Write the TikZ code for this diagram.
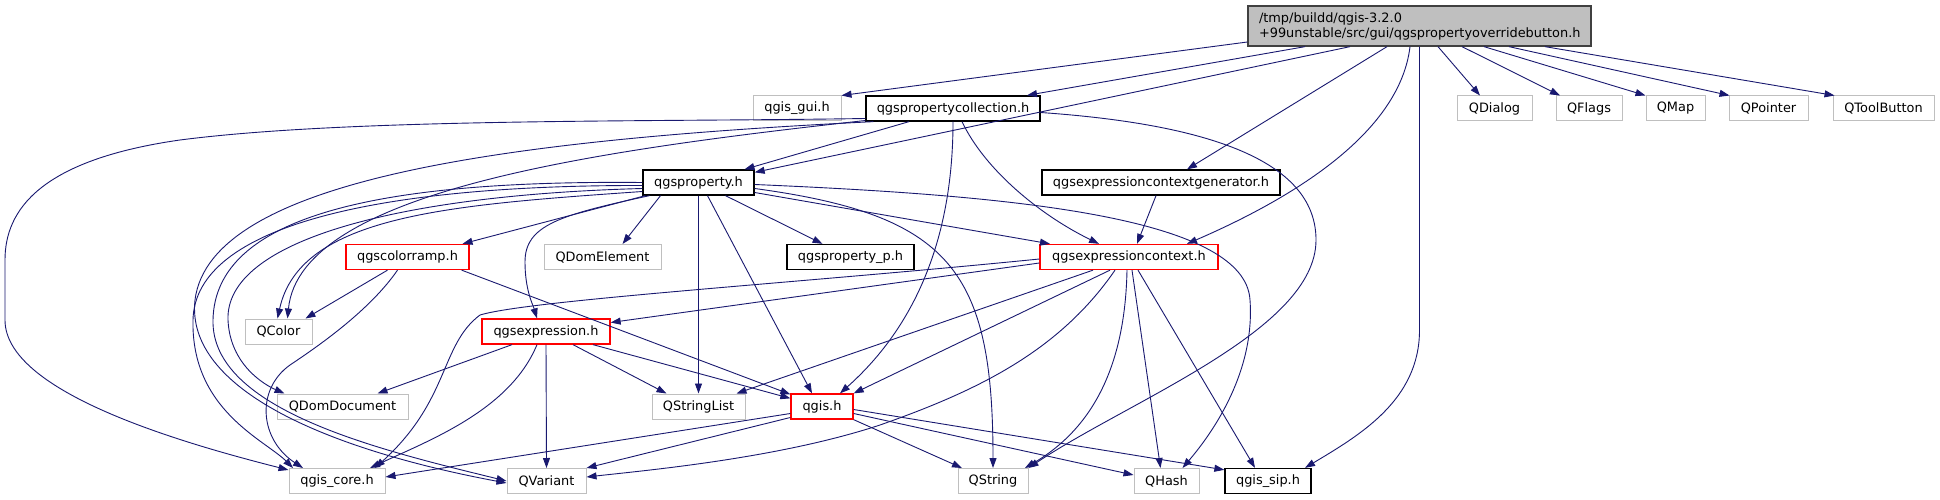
\documentclass[tikz,border=0pt]{standalone}
\usepackage{fontspec}
\setmainfont{DejaVu Sans}
\usetikzlibrary{arrows.meta}
\definecolor{edgec}{HTML}{191970}
\definecolor{grayb}{HTML}{BFBFBF}
\definecolor{topb}{HTML}{404040}
\tikzset{
  nd/.style={rectangle, inner sep=0pt, minimum height=25pt, font=\fontsize{12.9pt}{15pt}\selectfont, fill=white},
  sysnode/.style={nd, draw=grayb, line width=1pt},
  intnode/.style={nd, draw=black, line width=1.3pt},
  rednode/.style={nd, draw=red, line width=1.3pt},
  topnode/.style={nd, draw=topb, fill=grayb, line width=1.3pt, minimum height=40pt, text width=321pt, inner xsep=11pt, align=left},
  dep/.style={draw=edgec, line width=0.9pt, -{Triangle[length=10pt,width=7pt]}},
}
\begin{document}
\begin{tikzpicture}[x=1pt,y=-1pt]
\useasboundingbox[fill=white] (0,0) rectangle (1940,500);
% nodes
\node[topnode] (T) at (1419.5,26) {/tmp/buildd/qgis-3.2.0\\+99unstable/src/gui/qgspropertyoverridebutton.h};
\node[sysnode, minimum width=88pt] (gui) at (797,108.5) {qgis\_gui.h};
\node[intnode, minimum width=174pt] (PC) at (953,108.5) {qgspropertycollection.h};
\node[sysnode, minimum width=75pt] (QDialog) at (1494.5,108.5) {QDialog};
\node[sysnode, minimum width=66pt] (QFlags) at (1589,108.5) {QFlags};
\node[sysnode, minimum width=59pt] (QMap) at (1675.5,108.5) {QMap};
\node[sysnode, minimum width=79pt] (QPointer) at (1768.5,108.5) {QPointer};
\node[sysnode, minimum width=101pt] (QToolButton) at (1883.5,108.5) {QToolButton};
\node[intnode, minimum width=111pt] (P) at (698.5,182.5) {qgsproperty.h};
\node[intnode, minimum width=238pt] (ECG) at (1161,182.5) {qgsexpressioncontextgenerator.h};
\node[rednode, minimum width=123pt] (CR) at (407.5,257) {qgscolorramp.h};
\node[sysnode, minimum width=117pt] (QDE) at (602.5,257) {QDomElement};
\node[intnode, minimum width=127pt] (PP) at (850.5,257) {qgsproperty\_p.h};
\node[rednode, minimum width=178pt] (EC) at (1129,257) {qgsexpressioncontext.h};
\node[sysnode, minimum width=67pt] (QColor) at (278.5,331.5) {QColor};
\node[rednode, minimum width=128pt] (EX) at (546,331.5) {qgsexpression.h};
\node[sysnode, minimum width=131pt] (QDD) at (342.5,406.5) {QDomDocument};
\node[sysnode, minimum width=93pt] (QSL) at (698.5,406.5) {QStringList};
\node[rednode, minimum width=62pt] (QGIS) at (822,406.5) {qgis.h};
\node[sysnode, minimum width=96pt] (CORE) at (337,481) {qgis\_core.h};
\node[sysnode, minimum width=79pt] (QVar) at (546.5,481) {QVariant};
\node[sysnode, minimum width=70pt] (QStr) at (993,481) {QString};
\node[sysnode, minimum width=65pt] (QHash) at (1166.5,481) {QHash};
\node[intnode, minimum width=86pt] (SIP) at (1268,481) {qgis\_sip.h};
% edges from top node
\draw[dep] ([yshift=-16pt]T.west) -- (gui.north east);
\draw[dep] ([xshift=-114.5pt]T.south) -- ([xshift=74pt]PC.north);
\draw[dep] ([xshift=-69.5pt]T.south) -- ([yshift=-3pt]P.north east);
\draw[dep] ([xshift=-32.5pt]T.south) -- ([xshift=26pt]ECG.north);
\draw[dep] ([xshift=-9.5pt]T.south) .. controls (1400,130) and (1300,195) .. ([xshift=58pt]EC.north);
\draw[dep] (T.south) -- (1419.5,330) .. controls (1419.5,400) and (1360,435) .. ([xshift=37pt]SIP.north);
\draw[dep] ([xshift=18.5pt]T.south) -- ([xshift=-14.5pt]QDialog.north);
\draw[dep] ([xshift=42.5pt]T.south) -- ([xshift=-29pt]QFlags.north);
\draw[dep] ([xshift=64.5pt]T.south) -- (QMap.north west);
\draw[dep] ([xshift=89.5pt]T.south) -- ([xshift=1pt]QPointer.north west);
\draw[dep] ([xshift=125.5pt]T.south) -- ([xshift=2pt]QToolButton.north west);
% edges from qgspropertycollection.h
\draw[dep] ([xshift=-44pt]PC.south) -- ([xshift=46pt]P.north);
\draw[dep] ([xshift=9pt]PC.south) .. controls (985,170) and (1040,215) .. ([xshift=-30pt]EC.north);
\draw[dep] (PC.south) .. controls (953,260) and (900,340) .. ([xshift=18pt]QGIS.north);
\draw[dep] ([yshift=-4pt]PC.east) .. controls (1220,125) and (1316,165) .. (1316,240) .. controls (1316,330) and (1130,400) .. (QStr.north east);
\draw[dep] ([yshift=-10pt]PC.west) .. controls (650,122) and (350,118) .. (180,140) .. controls (40,160) and (5,210) .. (5,260) -- (5,320) .. controls (5,390) and (170,440) .. ([yshift=-2pt]CORE.north west);
\draw[dep] ([yshift=-12pt]PC.west) .. controls (600,150) and (300,190) .. ([xshift=9pt]QColor.north);
\draw[dep] ([xshift=8pt]PC.south west) .. controls (500,140) and (210,180) .. (195,300) .. controls (185,390) and (330,450) .. ([yshift=-2pt]QVar.west);
% edges from qgsproperty.h
\draw[dep] ([xshift=3pt]P.south west) -- ([xshift=55pt]CR.north);
\draw[dep] ([xshift=-38pt]P.south) -- ([xshift=20pt]QDE.north);
\draw[dep] ([xshift=-49pt]P.south) .. controls (560,215) and (525,225) .. (525,262) .. controls (525,290) and (533,305) .. ([xshift=-9pt]EX.north);
\draw[dep] (P.south) -- (QSL.north);
\draw[dep] ([xshift=9pt]P.south) -- ([xshift=-10pt]QGIS.north);
\draw[dep] ([xshift=27pt]P.south) -- ([xshift=-28pt]PP.north);
\draw[dep] ([yshift=-10pt]P.east) -- ([xshift=-79pt]EC.north);
\draw[dep] ([yshift=-6pt]P.east) .. controls (950,215) and (993,270) .. (QStr.north);
\draw[dep] ([yshift=-2pt]P.east) .. controls (1000,195) and (1245,215) .. (1250,300) .. controls (1255,370) and (1215,430) .. ([xshift=16pt]QHash.north);
\draw[dep] ([yshift=-9pt]P.west) .. controls (450,205) and (300,215) .. ([xshift=-1pt]QColor.north);
\draw[dep] ([yshift=-6pt]P.west) .. controls (400,195) and (225,240) .. (228,320) .. controls (230,365) and (265,385) .. ([xshift=-58pt]QDD.north);
\draw[dep] ([yshift=-3pt]P.west) .. controls (380,185) and (195,225) .. (193,320) .. controls (191,410) and (265,440) .. ([xshift=-44pt]CORE.north);
\draw[dep] (P.west) .. controls (380,180) and (215,215) .. (213,320) .. controls (211,410) and (380,450) .. (QVar.west);
% edges from qgscolorramp.h
\draw[dep] ([xshift=-20pt]CR.south) -- ([xshift=27pt]QColor.north);
\draw[dep] ([xshift=-10pt]CR.south) .. controls (370,310) and (320,345) .. (290,365) .. controls (255,390) and (260,440) .. ([xshift=-34pt]CORE.north);
\draw[dep] ([xshift=-8pt]CR.south east) -- ([yshift=-1pt]QGIS.north west);
% edges from qgsexpression.h
\draw[dep] ([xshift=-34pt]EX.south) -- ([xshift=35pt]QDD.north);
\draw[dep] ([xshift=-9pt]EX.south) .. controls (510,410) and (430,440) .. ([xshift=33pt]CORE.north);
\draw[dep] (EX.south) -- (QVar.north);
\draw[dep] ([xshift=27pt]EX.south) -- ([xshift=-32pt]QSL.north);
\draw[dep] ([xshift=47pt]EX.south) -- ([yshift=-5pt]QGIS.north west);
% edges from qgsexpressioncontext.h
\draw[dep] ([yshift=-6pt]EC.west) -- ([yshift=9pt]EX.east);
\draw[dep] ([yshift=-2pt]EC.west) .. controls (800,283) and (530,300) .. (480,315) .. controls (440,345) and (450,400) .. ([xshift=38pt]CORE.north);
\draw[dep] ([xshift=-36pt]EC.south) -- ([xshift=38pt]QSL.north);
\draw[dep] ([xshift=-19pt]EC.south) -- (QGIS.north east);
\draw[dep] ([xshift=-14pt]EC.south) .. controls (1060,350) and (980,390) .. (880,425) .. controls (780,458) and (650,470) .. ([yshift=4pt]QVar.east);
\draw[dep] ([xshift=-2pt]EC.south) .. controls (1125,370) and (1090,430) .. ([xshift=32pt]QStr.north);
\draw[dep] ([xshift=3pt]EC.south) -- ([xshift=-6pt]QHash.north);
\draw[dep] ([xshift=9pt]EC.south) -- ([xshift=-13pt]SIP.north);
\draw[dep] ([xshift=-5pt]ECG.south) -- ([xshift=8pt]EC.north);
% edges from qgis.h
\draw[dep] ([yshift=-7pt]QGIS.west) -- ([yshift=4pt]CORE.east);
\draw[dep] ([yshift=-11pt]QGIS.west) -- (QVar.north east);
\draw[dep] (QGIS.south east) -- ([xshift=-31pt]QStr.north);
\draw[dep] ([yshift=-7pt]QGIS.east) -- ([yshift=6pt]QHash.west);
\draw[dep] ([yshift=-3pt]QGIS.east) -- ([yshift=-2pt]SIP.north west);
\end{tikzpicture}
\end{document}
